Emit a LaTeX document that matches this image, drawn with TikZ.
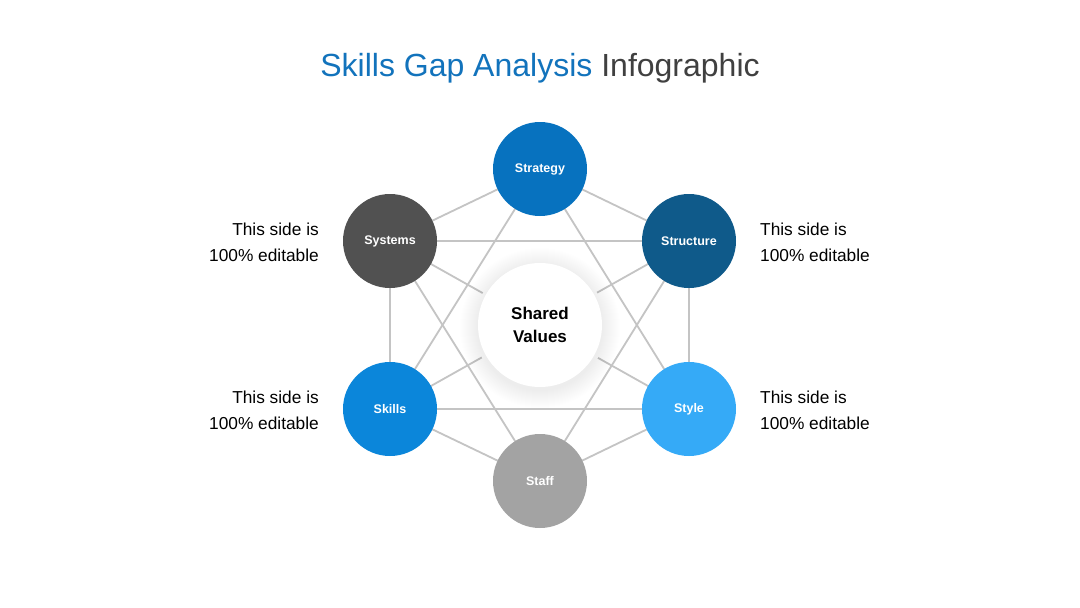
\documentclass[tikz,border=0pt]{standalone}
\usepackage{fontspec}
\setmainfont{Liberation Sans}
\definecolor{cStrategy}{HTML}{0772BF}
\definecolor{cStructure}{HTML}{0F5A8A}
\definecolor{cStyle}{HTML}{35AAF7}
\definecolor{cSkills}{HTML}{0B86DA}
\definecolor{cStaff}{HTML}{A3A3A3}
\definecolor{cSystems}{HTML}{515151}
\definecolor{titleblue}{HTML}{1273BC}
\definecolor{titlegray}{HTML}{404040}
\definecolor{linkgray}{HTML}{C4C4C4}
\begin{document}
\begin{tikzpicture}[x=1pt,y=-1pt,
  ball/.style={circle,minimum size=94pt,inner sep=0pt,text=white,font=\fontsize{12.5}{14}\selectfont\bfseries},
  link/.style={draw=linkgray,line width=1.8pt},
  side/.style={font=\fontsize{17.3}{26}\selectfont,text=black,align=#1,inner sep=0pt}]
\useasboundingbox[fill=white] (0,0) rectangle (1080,608);
\node[font=\fontsize{32}{36}\selectfont,inner sep=0pt] (title) at (540,68) {\textcolor{titleblue}{Skills Gap Analysis} \textcolor{titlegray}{Infographic}};
% node positions
\coordinate (pStrategy) at (540,169);
\coordinate (pStructure) at (689,241);
\coordinate (pStyle) at (689,409);
\coordinate (pStaff) at (540,481);
\coordinate (pSkills) at (390,409);
\coordinate (pSystems) at (390,241);
% links
\foreach \a/\b in {Strategy/Structure,Strategy/Systems,Systems/Structure,Systems/Skills,Structure/Style,Skills/Style,Skills/Staff,Staff/Style,Strategy/Skills,Strategy/Style,Systems/Staff,Structure/Staff,Systems/Style,Structure/Skills}
  \draw[link] (p\a) -- (p\b);
% shared values with soft shadow
\fill[white] (540,326) circle (66);
\foreach \r in {63,...,80} \fill[black,opacity=0.005] (540,328) circle (\r);
\fill[white] (540,325) circle (62);
\node[circle,minimum size=124pt,inner sep=0pt,align=center,font=\fontsize{17}{23}\selectfont\bfseries] (shared) at (540,325) {Shared\\Values};
% balls
\node[ball,fill=cStrategy] (strategy) at (pStrategy) {Strategy};
\node[ball,fill=cStructure] (structure) at (pStructure) {Structure};
\node[ball,fill=cStyle] (style) at (pStyle) {Style};
\node[ball,fill=cStaff] (staff) at (pStaff) {Staff};
\node[ball,fill=cSkills] (skills) at (pSkills) {Skills};
\node[ball,fill=cSystems] (systems) at (pSystems) {Systems};
% side texts
\node[side=right,anchor=east] (tl) at (319,242) {This side is\\100\% editable};
\node[side=left,anchor=west] (tr) at (760,242) {This side is\\100\% editable};
\node[side=right,anchor=east] (bl) at (319,410) {This side is\\100\% editable};
\node[side=left,anchor=west] (br) at (760,410) {This side is\\100\% editable};
\end{tikzpicture}
\end{document}
